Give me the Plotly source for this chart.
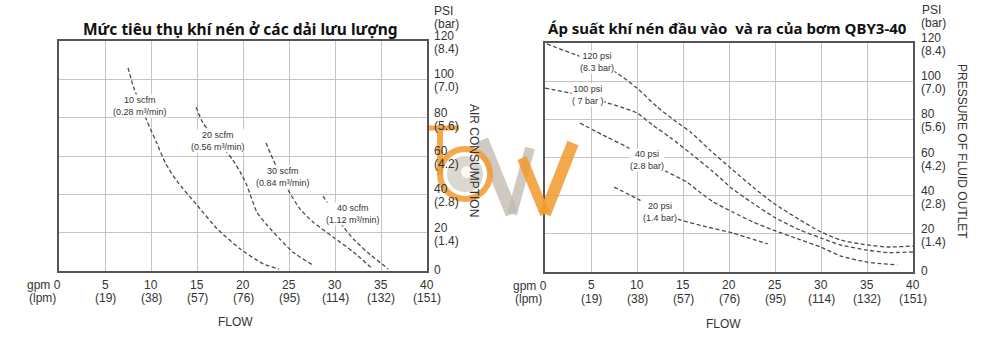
import plotly.graph_objects as go

W, H = 1000, 344

# ---------------- data ----------------
x_ticks = [5, 10, 15, 20, 25, 30, 35, 40]
x_gpm_text = ["5", "10", "15", "20", "25", "30", "35", "40"]
x_lpm_text = ["(19)", "(38)", "(57)", "(76)", "(95)", "(114)", "(132)", "(151)"]
y_ticks = [0, 20, 40, 60, 80, 100, 120]
y_psi_text = ["0", "20", "40", "60", "80", "100", "120"]
y_bar_text = ["", "(1.4)", "(2.8)", "(4.2)", "(5.6)", "(7.0)", "(8.4)"]

# Left chart: air consumption curves (gpm, psi)
scfm10_x = [7.5, 8.1, 9.5, 10.6, 11.6, 12.8, 15.0, 17.2, 19.7, 22.2, 23.9]
scfm10_y = [106, 96, 79, 67, 56, 47, 34.4, 22, 11.5, 3.7, 1]
scfm20_x = [14.9, 15.65, 17.3, 18.9, 19.7, 20.4, 20.8, 21.5, 22.6, 24.0, 25.4, 27.6]
scfm20_y = [85.5, 77.2, 67.5, 57.9, 51.6, 44.9, 39.7, 30.8, 24, 16.7, 9.9, 3.1]
scfm30_x = [22.5, 23.3, 24.2, 24.9, 26.2, 27.6, 29.8, 32.0, 34.1]
scfm30_y = [66.8, 57.9, 49, 42.3, 32.3, 25.6, 17.7, 9.9, 1]
scfm40_x = [28.7, 29.1, 30.0, 30.9, 32.0, 33.5, 35.8]
scfm40_y = [39.1, 36, 29.5, 23, 16.7, 9.9, 1]

# Right chart: fluid outlet pressure curves (gpm, psi)
psi120_x = [0.2, 3.5, 5.6, 7.8, 10.0, 12.2, 14.3, 15.8, 17.9, 20.4, 22.6, 24.8, 27.7, 30.0, 32.1, 35.0, 37.2, 40.0]
psi120_y = [119.5, 113.5, 110, 104.3, 96.4, 86.5, 78.6, 73.4, 64, 53.5, 44.5, 36.2, 27.3, 21, 16.8, 14.2, 13.1, 13.6]
psi100_x = [0.0, 2.7, 4.7, 6.8, 8.2, 10.0, 11.7, 13.6, 16.0, 18.3, 20.4, 22.6, 25.0, 27.7, 30.0, 32.1, 35.0, 37.2, 40.0]
psi100_y = [96.4, 93.8, 92.5, 88.6, 86.5, 83.3, 77, 70.5, 61.5, 52.4, 43.5, 36, 28.5, 22, 17.8, 14.2, 11.5, 10.2, 10.5]
psi40_x = [3.8, 6.7, 8.9, 11.1, 13.3, 15.4, 16.8, 18.3, 20.4, 22.6, 24.8, 27.7, 30.0, 32.1, 35.0, 38.3]
psi40_y = [78, 70.8, 65.5, 58.7, 52.4, 47.2, 41.9, 36.7, 31.4, 26.2, 22, 17, 13, 8.5, 5.2, 3.7]
psi20_x = [7.5, 10.3, 12.5, 14.7, 17.6, 20.4, 24.2]
psi20_y = [44.5, 37.7, 31.4, 27.3, 23.6, 20.4, 14.7]

left_labels = [("10 scfm<br>(0.28 m³/min)", 8.8, 86),
               ("20 scfm<br>(0.56 m³/min)", 17.3, 67.8),
               ("30 scfm<br>(0.84 m³/min)", 24.3, 49.3),
               ("40 scfm<br>(1.12 m³/min)", 32.0, 29.7)]
right_labels = [("120 psi<br>(8.3 bar)", 5.6, 110),
                ("100 psi<br>( 7 bar )", 4.7, 92.5),
                ("40 psi<br>(2.8 bar)", 11.1, 58.7),
                ("20 psi<br>(1.4 bar)", 12.5, 31.4)]

title_left = "Mức tiêu thụ khí nén ở các dải lưu lượng"
title_right = "Áp suất khí nén đầu vào  và ra của bơm QBY3-40"

# ---------------- layout helpers ----------------
def px(x):
    return x / W

def py(y):
    return 1 - y / H

LINE = dict(color="#4a4a4a", width=1.3, dash="4px,2.5px")
TXT = "#333333"
FONT = "Liberation Sans, Arial, sans-serif"

fig = go.Figure()
for xs, ys in [(scfm10_x, scfm10_y), (scfm20_x, scfm20_y), (scfm30_x, scfm30_y), (scfm40_x, scfm40_y)]:
    fig.add_trace(go.Scatter(x=xs, y=ys, mode="lines", line=dict(LINE, shape="spline", smoothing=0.6),
                             xaxis="x", yaxis="y", showlegend=False, hoverinfo="skip"))
for xs, ys in [(psi120_x, psi120_y), (psi100_x, psi100_y), (psi40_x, psi40_y), (psi20_x, psi20_y)]:
    fig.add_trace(go.Scatter(x=xs, y=ys, mode="lines", line=dict(LINE, shape="spline", smoothing=0.6),
                             xaxis="x2", yaxis="y2", showlegend=False, hoverinfo="skip"))

GRID_X = [0] + x_ticks

def xax(domain, anchor):
    return dict(domain=domain, anchor=anchor, range=[0, 40], tickvals=GRID_X, showticklabels=False,
                showgrid=True, gridcolor="#c4c4c4", gridwidth=1, showline=True, linecolor="#555555",
                linewidth=2, mirror=True, zeroline=False, ticks="", automargin=False, fixedrange=True)

def yax(domain, anchor):
    return dict(domain=domain, anchor=anchor, range=[0, 120], tickvals=y_ticks, showticklabels=False,
                side="right", showgrid=True, gridcolor="#c4c4c4", gridwidth=1, showline=True,
                linecolor="#555555", linewidth=2, mirror=True, zeroline=False, ticks="",
                automargin=False, fixedrange=True)

annotations = []
for t, x, y in left_labels:
    annotations.append(dict(text=t, x=x, y=y, xref="x", yref="y", showarrow=False, bgcolor="white",
                            font=dict(family=FONT, size=9, color=TXT), borderpad=0))
for t, x, y in right_labels:
    annotations.append(dict(text=t, x=x, y=y, xref="x2", yref="y2", showarrow=False, bgcolor="white",
                            font=dict(family=FONT, size=9, color=TXT), borderpad=0))

def ann(text, x, y, size=12, xanchor="center", yanchor="middle", angle=0, family=FONT,
        color=TXT, align="center"):
    annotations.append(dict(text=text, x=px(x), y=py(y), xref="paper", yref="paper", showarrow=False,
                            xanchor=xanchor, yanchor=yanchor, textangle=angle, align=align,
                            font=dict(family=family, size=size, color=color)))

# tick labels (two rows each), placed through the axes' own scales
def tick_labels(xref, yref, label_left_px, row1_px, row2_px):
    for v, t1, t2 in zip(x_ticks, x_gpm_text, x_lpm_text):
        annotations.append(dict(text=t1, x=v, y=py(row1_px), xref=xref, yref="paper", showarrow=False,
                                xanchor="center", yanchor="middle", font=dict(family=FONT, size=12, color=TXT)))
        annotations.append(dict(text=t2, x=v, y=py(row2_px), xref=xref, yref="paper", showarrow=False,
                                xanchor="center", yanchor="middle", font=dict(family=FONT, size=12, color=TXT)))
    for v, t1, t2 in zip(y_ticks, y_psi_text, y_bar_text):
        annotations.append(dict(text=t1, x=px(label_left_px), y=v, xref="paper", yref=yref,
                                yshift=(1 if v == 0 else 5), showarrow=False, xanchor="left",
                                yanchor="middle", font=dict(family=FONT, size=12, color=TXT)))
        if t2:
            annotations.append(dict(text=t2, x=px(label_left_px), y=v, xref="paper", yref=yref,
                                    yshift=-8, showarrow=False, xanchor="left", yanchor="middle",
                                    font=dict(family=FONT, size=12, color=TXT)))

tick_labels("x", "y", 432, 285, 298)
tick_labels("x2", "y2", 919, 285, 298.5)

ann("<b>" + title_left + "</b>", 240, 29, size=15.5, family="Noto Sans, Open Sans, sans-serif", color="#111111")
ann("<b>" + title_right + "</b>", 727, 28, size=15, family="Noto Sans, Open Sans, sans-serif", color="#111111")
ann("PSI", 432, 11.5, xanchor="left")
ann("(bar)", 432, 23.5, xanchor="left")
ann("PSI", 920, 10.5, xanchor="left")
ann("(bar)", 919, 22.5, xanchor="left")
ann("gpm 0", 63, 285, xanchor="right")
ann("(lpm)", 27, 298, xanchor="left")
ann("gpm 0", 549, 286, xanchor="right")
ann("(lpm)", 513, 299, xanchor="left")
ann("FLOW", 235, 322)
ann("FLOW", 723, 324)
ann("AIR CONSUMPTION", 474, 160, angle=90)
ann("PRESSURE OF FLUID OUTLET", 962, 151, angle=90)

# ---------------- watermark logo (decoration) ----------------
OR = "rgba(240,156,50,0.88)"
GR = "rgba(195,187,177,0.8)"
shapes = []
def seg(x0, y0, x1, y1, color, width):
    shapes.append(dict(type="line", xref="paper", yref="paper", x0=px(x0), y0=py(y0), x1=px(x1), y1=py(y1),
                       line=dict(color=color, width=width), layer="above"))
def circ(cx, cy, r, line=None, fill=None):
    shapes.append(dict(type="circle", xref="paper", yref="paper", x0=px(cx - r), x1=px(cx + r),
                       y0=py(cy + r), y1=py(cy - r), line=line or dict(width=0),
                       fillcolor=fill or "rgba(0,0,0,0)", layer="above"))

# gray W part
seg(482, 140, 512, 214, GR, 13)
seg(512, 214, 530, 148, GR, 10)
# gray inner swirl
circ(465, 174, 18, fill="rgba(200,193,185,0.65)")
circ(467, 172, 6, fill="rgba(255,255,255,0.85)")
# orange b
seg(429, 128, 459, 128, OR, 5)
seg(440, 128, 440, 175, OR, 6)
circ(465, 174, 25, line=dict(color=OR, width=6))
# orange V
seg(522, 158, 545, 214, OR, 10)
seg(545, 214, 573, 143, OR, 12)

fig.update_layout(
    template="none",
    width=W, height=H, margin=dict(l=0, r=0, t=0, b=0, autoexpand=False),
    paper_bgcolor="white", plot_bgcolor="white",
    xaxis=xax([px(59), px(427)], "y"),
    yaxis=yax([py(271), py(41)], "x"),
    xaxis2=xax([px(545), px(913)], "y2"),
    yaxis2=yax([py(272), py(43)], "x2"),
    annotations=annotations, shapes=shapes, showlegend=False,
)

fig.write_html("out.html")
